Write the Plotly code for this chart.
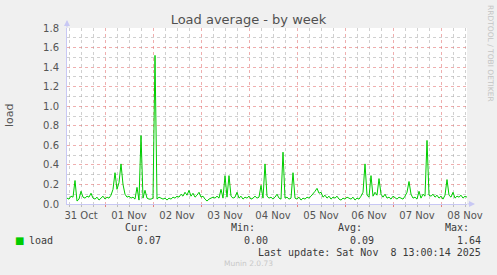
import plotly.graph_objects as go
import pandas as pd

# ---------------- data ----------------
start_time = "2025-10-31 05:00"
end_time = "2025-11-08 13:00"
# hourly load average samples
load_values = [
    0.06, 0.05, 0.08, 0.07, 0.24, 0.03, 0.05, 0.13, 0.07, 0.06,
    0.08, 0.07, 0.11, 0.06, 0.05, 0.07, 0.04, 0.06, 0.08, 0.05,
    0.07, 0.06, 0.09, 0.15, 0.32, 0.15, 0.22, 0.41, 0.20, 0.10,
    0.07, 0.08, 0.06, 0.07, 0.05, 0.17, 0.04, 0.70, 0.06, 0.14,
    0.06, 0.05, 0.05, 0.06, 1.52, 0.05, 0.07, 0.06, 0.05, 0.06,
    0.04, 0.06, 0.05, 0.07, 0.06, 0.08, 0.07, 0.10, 0.08, 0.12,
    0.09, 0.14, 0.08, 0.11, 0.07, 0.09, 0.12, 0.07, 0.08, 0.05,
    0.03, 0.05, 0.06, 0.07, 0.06, 0.08, 0.06, 0.15, 0.06, 0.29,
    0.07, 0.29, 0.08, 0.06, 0.07, 0.12, 0.06, 0.08, 0.05, 0.07,
    0.06, 0.08, 0.05, 0.06, 0.08, 0.06, 0.07, 0.19, 0.06, 0.41,
    0.08, 0.06, 0.07, 0.05, 0.07, 0.10, 0.06, 0.05, 0.53, 0.06,
    0.07, 0.05, 0.06, 0.32, 0.06, 0.05, 0.07, 0.04, 0.06, 0.05,
    0.07, 0.06, 0.08, 0.10, 0.13, 0.16, 0.11, 0.12, 0.07, 0.09,
    0.06, 0.08, 0.05, 0.07, 0.06, 0.08, 0.05, 0.04, 0.06, 0.05,
    0.07, 0.06, 0.05, 0.07, 0.04, 0.06, 0.05, 0.08, 0.12, 0.41,
    0.09, 0.07, 0.29, 0.08, 0.12, 0.09, 0.26, 0.10, 0.07, 0.10,
    0.06, 0.07, 0.05, 0.08, 0.06, 0.05, 0.07, 0.06, 0.05, 0.08,
    0.12, 0.23, 0.10, 0.06, 0.07, 0.05, 0.13, 0.06, 0.10, 0.08,
    0.65, 0.09, 0.08, 0.10, 0.07, 0.09, 0.06, 0.08, 0.05, 0.09,
    0.25, 0.09, 0.07, 0.12, 0.06, 0.08, 0.07, 0.09, 0.06, 0.08,
    0.07,
]
series_name = "load"
stat_names = ["Cur:", "Min:", "Avg:", "Max:"]
stat_values = [0.07, 0.00, 0.09, 1.64]
last_update = "Last update: Sat Nov  8 13:00:14 2025"
chart_title = "Load average - by week"
y_label = "load"
side_text = "RRDTOOL / TOBI OETIKER"
footer_text = "Munin 2.0.73"

times = pd.date_range(start_time, periods=len(load_values), freq="h")

# ---------------- layout geometry ----------------
W, H = 497, 275
L, R, T, B = 67, 30, 28, 71
PW = W - L - R
PH = H - T - B


def px(x):
    return (x - L) / PW


def py(y):
    return (H - B - y) / PH


MONO = "DejaVu Sans Mono"
SANS = "DejaVu Sans"
TXT = "#555555"
LEG = "#3a3a3a"
MAJ = "rgba(225,110,110,0.55)"
MIN = "rgba(170,170,170,0.55)"
AXIS = "#c8c8f4"
GREEN = "#00cc00"

fig = go.Figure()
fig.add_trace(go.Scatter(x=times, y=load_values, mode="lines",
                         line=dict(color=GREEN, width=1), name=series_name,
                         hoverinfo="skip"))

annotations = []
# y-axis label
annotations.append(dict(x=px(10), y=py(115), xref="paper", yref="paper",
                        text=y_label, textangle=-90, showarrow=False,
                        font=dict(family=SANS, size=11, color=TXT),
                        xanchor="center", yanchor="middle"))
# side credit
annotations.append(dict(x=px(491), y=py(53), xref="paper", yref="paper",
                        text=side_text, textangle=90, showarrow=False,
                        font=dict(family=SANS, size=7.5, color="#c4c4c4"),
                        xanchor="center", yanchor="middle"))
# legend square + name
annotations.append(dict(x=px(13), y=py(240), xref="paper", yref="paper",
                        text="\u25a0", showarrow=False,
                        font=dict(family=SANS, size=10, color=GREEN),
                        xanchor="left", yanchor="middle"))
annotations.append(dict(x=px(27), y=py(240), xref="paper", yref="paper",
                        text=series_name, showarrow=False,
                        font=dict(family=MONO, size=10, color=LEG),
                        xanchor="left", yanchor="middle"))
# stats
name_right = [151, 257, 364, 471]
val_right = [163, 270, 376, 483]
for nm, v, nr, vr in zip(stat_names, stat_values, name_right, val_right):
    annotations.append(dict(x=px(nr), y=py(228), xref="paper", yref="paper",
                            text=nm, showarrow=False,
                            font=dict(family=MONO, size=10, color=LEG),
                            xanchor="right", yanchor="middle"))
    annotations.append(dict(x=px(vr), y=py(240), xref="paper", yref="paper",
                            text=f"{v:.2f}", showarrow=False,
                            font=dict(family=MONO, size=10, color=LEG),
                            xanchor="right", yanchor="middle"))
annotations.append(dict(x=px(483), y=py(252), xref="paper", yref="paper",
                        text=last_update.replace(" ", "\u00a0"), showarrow=False,
                        font=dict(family=MONO, size=10, color=LEG),
                        xanchor="right", yanchor="middle"))
annotations.append(dict(x=px(248), y=py(263.5), xref="paper", yref="paper",
                        text=footer_text, showarrow=False,
                        font=dict(family=SANS, size=7.5, color="#c8c8c8"),
                        xanchor="center", yanchor="middle"))
# axis arrows
annotations.append(dict(x=0, y=1 + 8 / PH, xref="paper", yref="paper",
                        text="", showarrow=True, ax=0, ay=9, arrowhead=2,
                        arrowsize=1.2, arrowwidth=1, arrowcolor=AXIS))
annotations.append(dict(x=1 + 8 / PW, y=0, xref="paper", yref="paper",
                        text="", showarrow=True, ax=-9, ay=0, arrowhead=2,
                        arrowsize=1.2, arrowwidth=1, arrowcolor=AXIS))

fig.update_layout(
    width=W, height=H,
    margin=dict(l=L, r=R, t=T, b=B, pad=0),
    paper_bgcolor="#f0f0f0",
    plot_bgcolor="#ffffff",
    showlegend=False,
    title=dict(text=chart_title, x=0.5, xref="container", xanchor="center",
               y=1 - 19.5 / H, yref="container", yanchor="middle",
               font=dict(family=SANS, size=13, color="#505050")),
    annotations=annotations,
    xaxis=dict(
        type="date", range=[start_time, end_time],
        tick0="2025-10-31 00:00", dtick=86400000,
        tickformat="%d %b", ticklabelmode="period",
        showgrid=True, gridcolor=MAJ, griddash="dot", gridwidth=1,
        ticks="outside", ticklen=2, tickcolor="#e08080", tickwidth=1,
        minor=dict(dtick=6 * 3600 * 1000, tick0="2025-10-31 00:00",
                   showgrid=True, gridcolor=MIN, griddash="dot", gridwidth=1,
                   ticks="outside", ticklen=2, tickcolor="#bbbbbb"),
        showline=True, linecolor=AXIS, linewidth=1,
        zeroline=False,
        tickfont=dict(family=SANS, size=10, color=TXT),
        fixedrange=True,
    ),
    yaxis=dict(
        range=[0, 1.8], dtick=0.2, tick0=0, tickformat=".1f",
        showgrid=True, gridcolor=MAJ, griddash="dot", gridwidth=1,
        minor=dict(dtick=0.1, showgrid=True, gridcolor=MIN, griddash="dot",
                   gridwidth=1),
        ticks="", ticklabelstandoff=5,
        showline=True, linecolor=AXIS, linewidth=1,
        zeroline=False,
        tickfont=dict(family=SANS, size=10, color=TXT),
        fixedrange=True,
    ),
)

fig.write_html("out.html", config=dict(displayModeBar=False))
